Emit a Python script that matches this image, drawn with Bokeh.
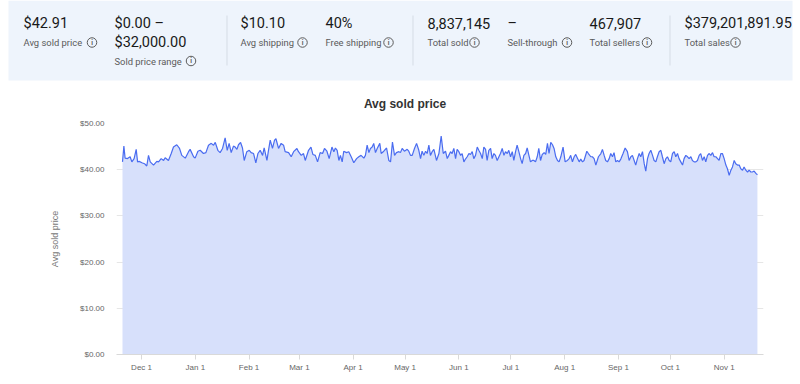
import pandas as pd
from bokeh.plotting import figure
from bokeh.layouts import column
from bokeh.models import (Range1d, FixedTicker, NumeralTickFormatter, DatetimeTickFormatter,
                          MonthsTicker, ColumnDataSource)
from bokeh.core.properties import value
from bokeh.embed import file_html
from bokeh.resources import INLINE

# ---------------- data ----------------
start_date = "2023-11-20"
days = [0, 0.8, 1.5, 2.9, 4.4, 5.4, 6.7, 7.9, 8.7, 9.6, 11.2, 12.7, 14.0, 15.0, 16.0, 17.9,
        19.8, 20.8, 22.3, 23.7, 24.6, 26.5, 28.1, 29.4, 31.3, 32.9, 34.2, 36.2, 38.1, 39.0,
        41.0, 41.9, 43.5, 44.8, 46.7, 48.1, 49.6, 51.2, 52.5, 53.5, 55.0, 56.3, 57.7, 59.2,
        60.4, 61.5, 62.7, 64.0, 65.0, 66.0, 66.9, 68.1, 69.2, 70.2, 71.7, 73.1, 74.2, 75.6,
        76.9, 78.1, 79.4, 80.8, 81.7, 83.3, 84.2, 85.2, 86.5, 87.7, 88.5, 90.0, 91.5, 92.9,
        93.8, 95.8, 97.3, 98.7, 100.6, 101.5, 103.1, 104.4, 105.4, 107.3, 108.7, 109.8,
        111.2, 112.5, 114.0, 115.4, 116.5, 117.9, 119.2, 120.8,
        121.9, 122.8, 123.8, 124.8, 125.7, 126.7, 127.6, 129.2, 130.5, 131.9, 133.4, 135.0,
        136.3, 137.6, 139.2, 140.1, 141.1, 142.1, 143.0, 144.0, 144.9, 145.9, 146.9, 148.4,
        149.2, 150.7, 152.3, 153.6, 154.6, 155.7, 156.9, 158.0, 159.4, 160.3, 161.3, 162.6,
        164.2, 165.1, 166.1, 167.1, 168.4, 169.6, 170.9, 171.9, 172.8, 173.8, 174.8, 175.7,
        176.7, 177.6, 178.6, 179.6, 181.1, 182.5, 183.8, 185.0, 186.3, 187.3, 188.2, 189.2,
        190.1, 191.1, 192.1, 193.0, 194.0, 195.0, 195.9, 196.9, 197.8, 198.8, 199.8, 200.7,
        201.7, 202.6, 203.6, 204.6, 205.5, 206.5, 207.5, 208.4, 209.4, 210.3, 211.3, 212.3,
        213.2, 214.2, 215.1, 216.1, 217.1, 218.0, 219.0, 220.0, 220.9, 221.9, 222.8, 223.8,
        224.8, 225.7, 226.7, 227.6, 228.6, 229.6, 230.5, 231.5, 232.5, 233.4, 234.4, 235.3,
        236.3, 237.3, 238.2, 239.2, 240.1, 241.1, 242.1,
        243.2, 244.1, 245.1, 246.0, 247.0, 248.0, 248.9, 249.9, 250.9, 251.8, 252.8, 254.1,
        255.3, 256.6, 257.6, 258.5, 259.5, 260.5, 261.4, 262.4, 263.4, 264.3, 265.3, 266.2,
        267.8, 268.7, 270.1, 271.0, 272.0, 273.0, 274.5, 275.9, 276.8, 277.8, 278.7, 279.7,
        280.7, 281.6, 282.6, 283.5, 284.5, 285.5, 286.4, 287.4, 288.7, 289.9, 291.2, 292.2,
        293.2, 294.1, 295.1, 296.0, 297.0, 298.0, 298.9, 299.9, 300.9, 301.8, 302.8, 303.7,
        304.7, 305.7, 306.6, 307.6, 308.5, 309.5, 310.5, 311.4, 312.4, 313.4, 314.3, 315.3,
        316.2, 317.2, 318.2, 319.1, 320.1, 321.0, 322.0, 323.0, 323.9, 324.9, 325.9, 326.8,
        327.8, 328.7, 329.7, 330.7, 331.6, 332.6, 333.5, 334.5, 335.5, 336.4, 337.4, 338.4,
        339.3, 340.3, 341.2, 342.2, 343.2, 344.1, 345.1, 346.0, 347.0, 348.0, 348.9, 349.9,
        350.9, 351.8, 352.8, 353.7, 354.7, 355.7, 356.6, 357.6, 358.5, 359.5, 360.5, 361.4,
        362.4, 363.3, 364.3, 365.3, 366.2]
prices = [41.7, 45.1, 42.5, 42.4, 42.8, 41.7, 42.4, 44.4, 41.7, 41.8, 41.5, 41.3, 40.8, 43.1, 41.7, 41.0,
          41.8, 41.7, 42.4, 42.0, 42.6, 42.0, 43.5, 44.9, 45.4, 44.6, 43.1, 42.5, 43.9, 44.4,
          42.8, 42.5, 44.0, 44.2, 43.5, 43.7, 45.3, 45.7, 45.3, 45.9, 44.2, 43.7, 44.6, 46.9,
          44.2, 45.7, 43.7, 45.1, 44.9, 44.4, 45.4, 45.9, 44.7, 42.0, 43.9, 44.2, 43.7, 43.5,
          41.5, 43.5, 44.2, 43.1, 44.7, 42.0, 44.2, 46.4, 44.6, 46.4, 46.7, 44.6, 45.7, 45.3,
          43.9, 43.7, 42.8, 43.9, 44.6, 43.9, 43.1, 43.5, 42.0, 44.2, 44.9, 43.3,
          43.1, 41.7, 43.7, 43.5, 44.6, 44.0, 42.4, 44.9,
          43.9, 44.7, 44.2, 42.0, 43.1, 41.7, 44.0, 43.7, 43.9, 42.8, 41.5, 42.4,
          42.8, 43.1, 42.5, 43.1, 45.3, 43.7, 44.6, 44.9, 45.7, 43.7, 44.6, 45.7,
          43.5, 44.0, 44.7, 42.0, 41.7, 46.0, 43.1, 43.7, 43.9, 43.7, 44.6, 44.0,
          44.4, 44.0, 43.1, 43.1, 44.6, 45.7, 44.2, 42.4, 44.0, 43.1, 44.0, 43.5,
          45.3, 43.1, 43.9, 44.4, 42.0, 43.5, 47.3, 43.5, 44.0, 42.4, 43.1, 43.9,
          43.5, 44.6, 42.4, 44.4, 43.9, 43.1, 43.5, 41.7, 42.3, 42.8, 43.5, 43.3,
          43.9, 42.4, 43.1, 44.9, 44.2, 43.5, 42.4, 44.9, 44.4, 42.0, 44.2, 44.6,
          42.4, 43.5, 43.1, 42.0, 42.8, 43.5, 44.6, 43.1, 43.9, 43.5, 44.2, 42.8,
          43.9, 42.0, 43.9, 45.3, 43.9, 42.4, 41.3, 43.1, 43.5, 44.7, 43.1, 41.7,
          42.0, 42.0, 41.7, 42.8, 44.6, 42.0, 43.3,
          43.7, 43.3, 45.7, 43.5, 45.9, 45.4, 44.6, 42.8, 42.0, 41.7, 42.8, 44.9,
          41.7, 42.0, 42.4, 43.1, 41.7, 42.8, 43.3, 42.5, 41.7, 42.3, 41.7, 42.0,
          44.0, 43.5, 42.8, 42.8, 42.4, 41.0, 42.8, 43.5, 44.4, 43.1, 42.0, 41.7,
          42.4, 43.5, 42.8, 43.7, 41.7, 42.0, 41.7, 42.3, 43.5, 44.7, 43.9, 42.0,
          42.8, 43.1, 42.0, 41.0, 42.4, 43.5, 42.8, 43.9, 41.3, 39.7, 42.4, 43.5,
          44.2, 43.1, 42.0, 41.7, 42.8, 43.9, 44.2, 42.8, 41.3, 42.4, 42.8, 42.0,
          41.7, 43.5, 43.9, 42.8, 43.5, 42.4, 41.7, 41.0, 42.4, 43.1, 42.8, 42.4,
          42.8, 42.0, 41.7, 41.7, 42.0, 43.1, 43.5, 42.0, 42.8, 41.7, 43.1, 43.5,
          43.1, 43.7, 42.8, 42.8, 42.4, 42.0, 43.5, 43.5, 42.4, 41.0, 40.2, 38.8,
          39.9, 40.6, 42.0, 41.3, 41.0, 41.0, 40.2, 39.9, 40.6, 39.9, 39.5, 39.9,
          39.5, 39.5, 39.7, 39.2, 38.9]

y_ticks = [0, 10, 20, 30, 40, 50]

stat_values = ["$42.91", "$0.00 \u2013", "$10.10", "40%", "8,837,145", "\u2013", "467,907",
               "$379,201,891.95"]
stat_second_line = "$32,000.00"
stat_labels = ["Avg sold price", "Sold price range", "Avg shipping", "Free shipping",
               "Total sold", "Sell-through", "Total sellers", "Total sales"]
chart_title = "Avg sold price"
y_label = "Avg sold price"

# ---------------- layout ----------------
W = 800
HEAD_H = 115
STAT_FONT = value("Roboto")
AX_FONT = value("Liberation Sans")

# header figure: data coordinates == pixel coordinates (y downwards)
head = figure(width=W, height=HEAD_H, x_range=Range1d(0, W), y_range=Range1d(HEAD_H, 0),
              toolbar_location=None, output_backend="svg", min_border=0,
              min_border_left=0, min_border_right=0, min_border_top=0, min_border_bottom=0,
              frame_align=False)
head.axis.visible = False
head.grid.visible = False
head.outline_line_color = None

head.quad(left=[8], right=[792], top=[0], bottom=[80], fill_color="#eef4fc", line_color=None)
head.segment(x0=[226.5, 412.5, 669.5], y0=[15] * 3, x1=[226.5, 412.5, 669.5], y1=[65] * 3,
             line_color="#d5dce5", line_width=1)

val_x = [23, 114, 240, 325, 427, 507, 589, 684]
lab_y = [42, 60.5, 42, 42, 42, 42, 42, 42]
icon_x = [91.5, 190.5, 302, 388, 474, 566.5, 646.5, 735]

head.text(x=val_x + [114], y=[23] * len(val_x) + [42], text=stat_values + [stat_second_line],
          text_font=STAT_FONT, text_font_size="14.5px", text_color="#191919",
          text_baseline="middle")
head.text(x=val_x, y=lab_y, text=stat_labels, text_font=STAT_FONT, text_font_size="9.4px",
          text_color="#5a5a5a", text_baseline="middle")
head.scatter(x=icon_x, y=lab_y, size=9.5, marker="circle", fill_color=None,
             line_color="#5a5a5a", line_width=1)
head.text(x=icon_x, y=[v + 0.4 for v in lab_y], text=["i"] * len(icon_x), text_font=STAT_FONT,
          text_font_size="6.5px", text_font_style="bold", text_color="#5a5a5a",
          text_align="center", text_baseline="middle")
head.text(x=[404.5], y=[103], text=[chart_title], text_font=AX_FONT, text_font_size="12px",
          text_font_style="bold", text_color="#333333", text_align="center",
          text_baseline="middle")

# chart figure
start = pd.Timestamp(start_date)
dates = start + pd.to_timedelta(days, unit="D")
src = ColumnDataSource(data=dict(date=dates, price=prices))

p = figure(width=W, height=384 - HEAD_H, x_axis_type="datetime",
           x_range=Range1d(start - pd.Timedelta(days=3.46), start + pd.Timedelta(days=369.7)),
           y_range=Range1d(0, 50), toolbar_location=None, output_backend="svg",
           min_border_left=116, min_border_right=37, min_border_top=8, min_border_bottom=30,
           frame_align=False)
p.outline_line_color = None
p.xgrid.visible = False
p.ygrid.grid_line_color = "#e6e6e6"
p.ygrid.ticker = FixedTicker(ticks=y_ticks)

p.varea(x="date", y1=0, y2="price", source=src, fill_color="#d7e0fb")
p.line(x="date", y="price", source=src, line_color="#4a6cf0", line_width=1.2)

p.yaxis.ticker = FixedTicker(ticks=y_ticks)
p.yaxis.formatter = NumeralTickFormatter(format="$0.00")
p.yaxis.axis_line_color = None
p.yaxis.major_tick_line_color = None
p.yaxis.minor_tick_line_color = None
p.yaxis.major_tick_out = 0
p.yaxis.major_label_standoff = 12
p.yaxis.axis_label = y_label
p.yaxis.axis_label_standoff = 17
p.yaxis.axis_label_text_font = "Liberation Sans"
p.yaxis.axis_label_text_font_style = "normal"
p.yaxis.axis_label_text_font_size = "9px"
p.yaxis.axis_label_text_color = "#777777"

p.xaxis.ticker = MonthsTicker(months=list(range(12)))
p.xaxis.formatter = DatetimeTickFormatter(days="%b %d", months="%b 1", years="%b 1")
p.xaxis.axis_line_color = "#d9d9d9"
p.xaxis.major_tick_line_color = "#d9d9d9"
p.xaxis.minor_tick_line_color = None
p.xaxis.major_tick_in = 0
p.xaxis.major_tick_out = 5
p.xaxis.major_label_standoff = 3

for ax in [p.xaxis, p.yaxis]:
    ax.major_label_text_font = "Liberation Sans"
    ax.major_label_text_font_size = "8px"
    ax.major_label_text_color = "#666666"

layout = column(head, p, spacing=0)
open("out.html", "w").write(file_html(layout, INLINE))
